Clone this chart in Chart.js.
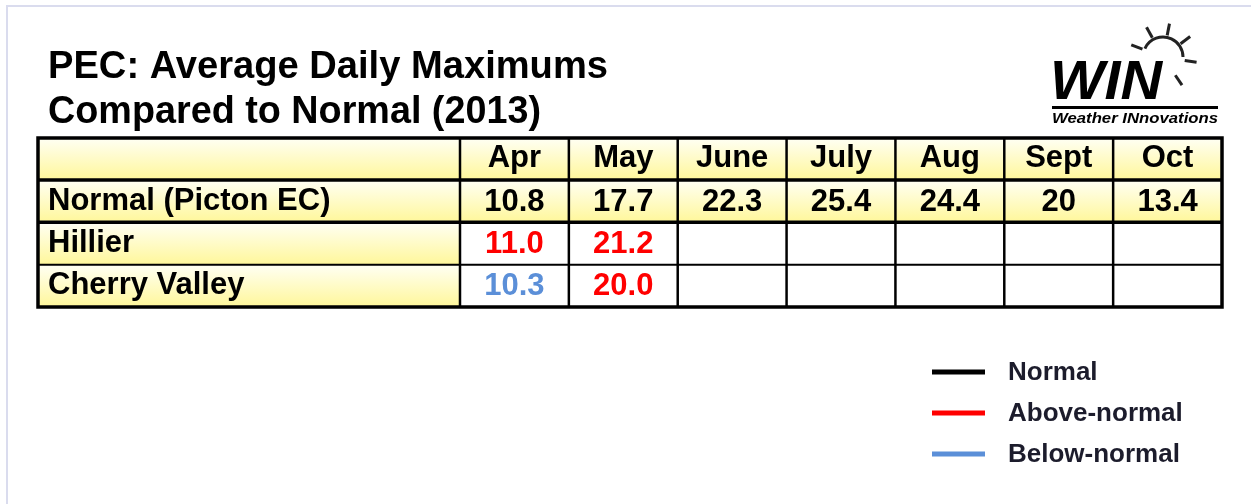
<!DOCTYPE html>
<html>
<head>
<meta charset="utf-8">
<script src="https://cdn.jsdelivr.net/npm/chart.js@4.4.0/dist/chart.umd.min.js"></script>
<style>
  html, body { margin: 0; padding: 0; background: #fff; }
  canvas { display: block; }
</style>
</head>
<body>
<canvas id="tableChart" width="1251" height="504"></canvas>
<script>
// table data
const months = ['Apr', 'May', 'June', 'July', 'Aug', 'Sept', 'Oct'];
const rowLabels = ['Normal (Picton EC)', 'Hillier', 'Cherry Valley'];
const normalValues = [10.8, 17.7, 22.3, 25.4, 24.4, 20, 13.4];
const hillierValues = [11.0, 21.2];
const cherryValleyValues = [10.3, 20.0];
const legendLabels = ['Normal', 'Above-normal', 'Below-normal'];
const titleLines = ['PEC: Average Daily Maximums', 'Compared to Normal (2013)'];

const FONT = '"Liberation Sans", Arial, sans-serif';
const RED = '#ff0000';
const BLUE = '#5b8fd8';
const seriesValues = [normalValues, hillierValues, cherryValleyValues];

function valueColor(ri, i) {
    if (ri === 0) return '#000';
    const v = seriesValues[ri][i], n = normalValues[i];
    if (v > n) return RED;
    if (v < n) return BLUE;
    return '#000';
}
function valueText(ri, v) {
    return ri === 0 ? String(v) : v.toFixed(1);
}

function yellowCell(ctx, x, y, w, h) {
    const g = ctx.createLinearGradient(0, y, 0, y + h);
    g.addColorStop(0, '#fffff4');
    g.addColorStop(1, '#fff79a');
    ctx.fillStyle = g;
    ctx.fillRect(x, y, w, h);
}

// draw text squeezed/stretched to a given width
function fitText(ctx, text, x, y, w) {
    const m = ctx.measureText(text).width;
    ctx.save();
    ctx.translate(x, y);
    ctx.scale(w / m, 1);
    ctx.fillText(text, 0, 0);
    ctx.restore();
}

const labelColW = 422;
const headerH = 42;

const tablePlugin = {
    id: 'tablePlugin',
    beforeDraw(chart) {
        const ctx = chart.ctx;
        const a = chart.chartArea;
        ctx.save();
        ctx.fillStyle = '#fff';
        ctx.fillRect(0, 0, chart.width, chart.height);
        // frame
        ctx.strokeStyle = '#dadcee';
        ctx.lineWidth = 2;
        ctx.beginPath();
        ctx.moveTo(7, chart.height);
        ctx.lineTo(7, 6);
        ctx.lineTo(chart.width, 6);
        ctx.stroke();

        // title
        ctx.fillStyle = '#000';
        ctx.font = 'bold 38px ' + FONT;
        ctx.textAlign = 'left';
        ctx.textBaseline = 'alphabetic';
        fitText(ctx, titleLines[0], 48, 78, 560);
        fitText(ctx, titleLines[1], 48, 123, 493);

        // logo
        ctx.font = 'italic bold 56px ' + FONT;
        fitText(ctx, 'WIN', 1050, 99, 112);
        ctx.fillRect(1052, 106, 166, 3);
        ctx.font = 'italic bold 14px ' + FONT;
        fitText(ctx, 'Weather INnovations', 1052, 123, 166);
        const sx = 1163, sy = 57;
        ctx.strokeStyle = '#222';
        ctx.lineWidth = 3;
        ctx.beginPath();
        ctx.arc(sx, sy, 20, -155 * Math.PI / 180, 0);
        ctx.stroke();
        ctx.lineWidth = 3;
        [-159, -119, -79, -37, 9, 56].forEach(deg => {
            const r = deg * Math.PI / 180;
            ctx.beginPath();
            ctx.moveTo(sx + Math.cos(r) * 22, sy + Math.sin(r) * 22);
            ctx.lineTo(sx + Math.cos(r) * 34, sy + Math.sin(r) * 34);
            ctx.stroke();
        });

        // cell backgrounds
        const x0 = a.left - labelColW;
        const rowH = (a.bottom - a.top) / rowLabels.length;
        yellowCell(ctx, x0, a.top - headerH, a.right - x0, headerH);
        yellowCell(ctx, x0, a.top, a.right - x0, rowH);
        for (let r = 1; r < rowLabels.length; r++) {
            yellowCell(ctx, x0, a.top + r * rowH, labelColW, rowH);
        }
        ctx.restore();
    },
    afterDatasetsDraw(chart) {
        const ctx = chart.ctx;
        ctx.save();
        ctx.font = 'bold 31px ' + FONT;
        ctx.textAlign = 'center';
        ctx.textBaseline = 'middle';
        chart.data.datasets.forEach((ds, ri) => {
            const meta = chart.getDatasetMeta(ri);
            meta.data.forEach((el, i) => {
                ctx.fillStyle = valueColor(ri, i);
                ctx.fillText(valueText(ri, ds.data[i].v), el.x, el.y + 1);
            });
        });
        ctx.restore();
    },
    afterDraw(chart) {
        const ctx = chart.ctx;
        const a = chart.chartArea;
        const x0 = a.left - labelColW;
        const top = a.top - headerH;
        const rowH = (a.bottom - a.top) / rowLabels.length;
        const colW = (a.right - a.left) / months.length;
        ctx.save();
        ctx.strokeStyle = '#000';
        // vertical separators
        ctx.lineWidth = 2.5;
        for (let i = 0; i < months.length; i++) {
            const x = a.left + i * colW;
            ctx.beginPath(); ctx.moveTo(x, top); ctx.lineTo(x, a.bottom); ctx.stroke();
        }
        // horizontal separators
        ctx.lineWidth = 3.5;
        [a.top, a.top + rowH].forEach(y => {
            ctx.beginPath(); ctx.moveTo(x0, y); ctx.lineTo(a.right, y); ctx.stroke();
        });
        ctx.lineWidth = 2;
        ctx.beginPath(); ctx.moveTo(x0, a.top + 2 * rowH); ctx.lineTo(a.right, a.top + 2 * rowH); ctx.stroke();
        // outer border
        ctx.lineWidth = 3.5;
        ctx.strokeRect(x0, top, a.right - x0, a.bottom - top);

        // legend
        const legendColors = ['#000', RED, BLUE];
        ctx.font = 'bold 26px ' + FONT;
        ctx.textAlign = 'left';
        ctx.textBaseline = 'middle';
        legendLabels.forEach((lab, i) => {
            const y = 372 + i * 41;
            ctx.fillStyle = legendColors[i];
            ctx.fillRect(932, y - 2.5, 53, 5);
            ctx.fillStyle = '#1c1c2c';
            ctx.fillText(lab, 1008, y + 1);
        });
        ctx.restore();
    }
};

const ctx = document.getElementById('tableChart').getContext('2d');
const tableChart = new Chart(ctx, {
    type: 'scatter',
    data: {
        datasets: rowLabels.map((row, ri) => ({
            label: row,
            data: seriesValues[ri].map((v, i) => ({ x: months[i], y: row, v: v })),
            pointRadius: 0,
            pointHoverRadius: 0
        }))
    },
    options: {
        responsive: false,
        animation: false,
        events: [],
        layout: { padding: { left: 48, right: 29, top: 138, bottom: 197 } },
        plugins: { legend: { display: false }, tooltip: { enabled: false } },
        scales: {
            x: {
                type: 'category',
                labels: months,
                position: 'top',
                offset: true,
                grid: { display: false, drawTicks: false },
                border: { display: false },
                ticks: { color: '#000', padding: 3, font: { family: FONT, size: 31, weight: 'bold' } },
                afterFit(scale) { scale.height = headerH; }
            },
            y: {
                type: 'category',
                labels: rowLabels,
                offset: true,
                grid: { display: false, drawTicks: false },
                border: { display: false },
                ticks: { color: '#000', crossAlign: 'far', font: { family: FONT, size: 31, weight: 'bold' } },
                afterFit(scale) { scale.width = labelColW - 10; }
            }
        }
    },
    plugins: [tablePlugin]
});
</script>
</body>
</html>
